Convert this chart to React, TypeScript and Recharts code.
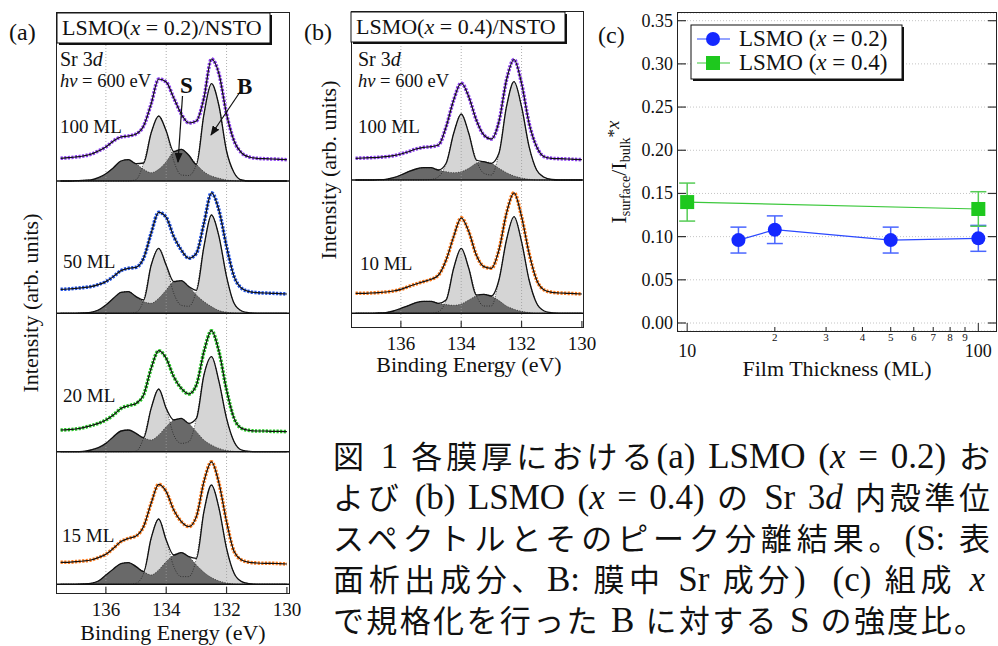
import React from "react";
import {
  ComposedChart,
  Area,
  Line,
  XAxis,
  YAxis,
  ReferenceLine,
  CartesianGrid,
  ErrorBar,
} from "recharts";

const SERIF = "'Liberation Serif', 'Times New Roman', serif";
const CAPTION_FONT = "'Liberation Serif', 'Noto Sans CJK JP', serif";

// binding energy grid (eV), high -> low
const energy = [
  137.5, 137.25, 137, 136.75, 136.5, 136.25, 136, 135.75, 135.5, 135.25, 135,
  134.75, 134.5, 134.25, 134, 133.75, 133.5, 133.25, 133, 132.75, 132.5, 132.25,
  132, 131.75, 131.5, 131.25, 131, 130.75, 130.5, 130.25, 130,
];

// (a) LSMO x=0.2
const a100Data = [22.7, 23.3, 24, 25, 26.7, 30, 34, 40, 44, 45, 47, 55, 77, 102, 99, 83, 67, 58, 60, 83, 122, 107, 67, 40, 28, 24, 22.7, 22.3, 22, 21.7, 21.3];
const a100Surf = [0, 0, 0.3, 0.7, 1, 3.3, 7.3, 13.3, 20, 21.3, 17.3, 11.7, 8.3, 11.7, 19.3, 29.3, 31.7, 25.7, 16.7, 9.3, 5, 2.7, 1, 0.3, 0, 0, 0, 0, 0, 0, 0];
const a100Bulk = [0, 0, 0, 0, 0, 0, 0, 0, 0, 0, 1.4, 18, 48, 65, 50, 20, 6, 5.5, 16.7, 66.7, 97.3, 75, 30, 8.3, 1, 0, 0, 0, 0, 0, 0];

const a50Data = [24, 24.3, 25, 25.7, 26.7, 28.7, 31.7, 36.7, 42.7, 45, 46, 55, 80, 101, 96, 76.7, 63.3, 55, 60, 90, 120.5, 103, 66.7, 36.7, 25, 21.7, 20.7, 20.3, 20, 19.7, 19.3];
const a50Surf = [0, 0, 0, 0.3, 1, 3.3, 8.3, 15, 21, 21.7, 16.7, 11.7, 10, 15, 23.3, 31.7, 32.7, 26.7, 18.3, 11.7, 6.7, 2.7, 1, 0.3, 0, 0, 0, 0, 0, 0, 0];
const a50Bulk = [0, 0, 0, 0, 0, 0, 0, 0, 0, 0, 1, 13.3, 48, 65, 48, 20, 8, 7, 23, 66.7, 98.3, 76.7, 36.7, 10, 2.3, 0.5, 0, 0, 0, 0, 0];

const a20Data = [21.7, 22, 22.7, 24, 26, 28.3, 31.7, 36.7, 43.3, 46, 48.3, 56.7, 83.3, 101, 93.3, 75, 63.3, 57.7, 66.7, 100, 121, 100, 61.7, 33.3, 23.3, 21.3, 20.7, 20.7, 20.3, 20.3, 20];
const a20Surf = [0, 0, 0, 0.3, 1.7, 4, 8.3, 15, 20.7, 21.7, 18.3, 14, 11.7, 16.7, 25, 31.7, 33.3, 28.3, 20, 11.7, 6.7, 3.3, 1.3, 0.3, 0, 0, 0, 0, 0, 0, 0];
const a20Bulk = [0, 0, 0, 0, 0, 0, 0, 0, 0, 0, 0.5, 14, 43.3, 62.7, 43.3, 16.7, 8.3, 10, 33.3, 76.7, 95, 70, 33.3, 10, 1.7, 0.3, 0, 0, 0, 0, 0];

const a15Data = [22, 22, 22.7, 23.3, 24.3, 26.7, 30, 36, 42.7, 46, 48.3, 57.7, 81, 100, 92.7, 74.3, 62.7, 57.7, 67.7, 102.7, 122.5, 101, 62.7, 32.7, 24.3, 22, 21.3, 21, 21, 20.7, 20.3];
const a15Surf = [0, 0, 0, 0.3, 1, 3.3, 9.3, 15.3, 20.7, 21.7, 17.7, 12.7, 9.3, 14.3, 22.7, 29.3, 31.7, 27.7, 19.3, 12, 6.7, 3.3, 1.3, 0.3, 0, 0, 0, 0, 0, 0, 0];
const a15Bulk = [0, 0, 0, 0, 0, 0, 0, 0, 0, 0, 1, 11, 46, 65.3, 44.3, 17.7, 7.7, 7.7, 26, 72.7, 99.3, 76, 36, 11, 2.7, 0.7, 0, 0, 0, 0, 0];

// (b) LSMO x=0.4
const b100Data = [21.7, 22, 22.3, 22.7, 23.3, 24.3, 26, 28.3, 31, 32.7, 33.3, 35, 53.3, 80, 97, 83.3, 60, 45, 41, 58.3, 100, 120.5, 96.7, 56.7, 33.3, 23.3, 21.7, 21.3, 21, 20.7, 20.3];
const b100Surf = [0, 0, 0, 0.3, 0.7, 2.3, 5, 8.3, 11, 12.3, 12.3, 10, 8.3, 7.3, 8.3, 11.7, 16.7, 18.3, 16.7, 11.7, 7.3, 4, 2, 0.7, 0, 0, 0, 0, 0, 0, 0];
const b100Bulk = [0, 0, 0, 0, 0, 0, 0, 0, 0, 0, 0.5, 3.3, 16.7, 46.7, 66, 46.7, 20, 6.7, 5, 26.7, 73.3, 98.3, 73.3, 33.3, 10, 2.7, 0.5, 0, 0, 0, 0];

const b10Data = [20, 20, 20.3, 20.7, 21.3, 22.3, 24, 26.7, 29.3, 31.7, 34, 38.3, 53.3, 76.7, 95.5, 81.7, 58.3, 46.7, 45, 63.3, 100, 120.5, 96.7, 60, 33.3, 23.3, 21, 20.3, 20, 19.7, 19.3];
const b10Surf = [0, 0, 0, 0.3, 0.7, 2.3, 5, 7.7, 10.7, 12, 12, 10, 8.7, 8, 9.3, 13.3, 17.3, 19, 17.3, 12.7, 7.3, 4, 2, 0.7, 0, 0, 0, 0, 0, 0, 0];
const b10Bulk = [0, 0, 0, 0, 0, 0, 0, 0, 0, 0, 0, 1.7, 13.3, 45, 65, 45, 18.3, 7.3, 7.3, 33.3, 73.3, 96.7, 71.7, 33.3, 10, 2.3, 0.5, 0, 0, 0, 0];

const energyTicks = [136, 134, 132, 130];
const gridEnergies = [136, 134, 132];

// (c) intensity ratio vs film thickness
const thickX02 = [15, 20, 50, 100];
const ratioX02 = [0.096, 0.108, 0.096, 0.098];
const errX02 = [0.015, 0.016, 0.015, 0.015];
const thickX04 = [10, 100];
const ratioX04 = [0.14, 0.132];
const errX04 = [0.022, 0.02];
const ratioTicks = [0, 0.05, 0.1, 0.15, 0.2, 0.25, 0.3, 0.35];
const thickTicks = [10, 20, 30, 40, 50, 60, 70, 80, 90, 100];

const LIGHT = "#d5d5d5";
const DARK = "#696969";
const PURPLE = "#8a3cf0";
const BLUE_S = "#1e50e6";
const GREEN_S = "#22c522";
const ORANGE = "#ff7a1a";
const BLUE = "#1428ff";
const GREEN = "#1ec81e";

const E_MAX = 137.62;
const PX_PER_EV = 30.17;

type Spec = { data: number[]; surf: number[]; bulk: number[]; color: string };

function EnergyTick(props: any) {
  const { x, y, payload } = props;
  return (
    <g>
      <line x1={x} x2={x} y1={y} y2={y - 6} stroke="#333" strokeWidth={1.2} />
      <text x={x} y={y + 23} textAnchor="middle" fontSize={19} fontFamily={SERIF} fill="#111">
        {payload.value}
      </text>
    </g>
  );
}

function Spectrum({ spec, plotW, plotH, lo, hi, axis }: { spec: Spec; plotW: number; plotH: number; lo: number; hi: number; axis?: boolean }) {
  const rows = energy.map((e, i) => {
    const s = spec.surf[i];
    const b = spec.bulk[i];
    return { e, data: spec.data[i], fit: spec.data[i], surf: s, bulk: b, top: Math.max(s, b) };
  });
  const axisH = axis ? 60 : 0;
  return (
    <ComposedChart width={plotW + 40} height={plotH + axisH} data={rows} margin={{ top: 0, right: 20, bottom: 0, left: 20 }}>
      <XAxis
        dataKey="e"
        type="number"
        domain={[E_MAX - plotW / PX_PER_EV, E_MAX]}
        reversed
        allowDataOverflow
        hide={!axis}
        ticks={energyTicks}
        interval={0}
        height={axisH || 1}
        axisLine={false}
        tickLine={false}
        tickSize={0}
        tickMargin={0}
        tick={(p: any) => <EnergyTick {...p} />}
      />
      <YAxis hide type="number" domain={[lo, hi]} allowDataOverflow />
      {gridEnergies.map((g) => (
        <ReferenceLine key={g} x={g} stroke="#9a9a9a" strokeWidth={0.8} strokeDasharray="1 2" />
      ))}
      {/* bulk (light) under surface (dark); hidden outlines stay dotted */}
      <Area type="monotone" dataKey="bulk" stroke="none" fill={LIGHT} fillOpacity={1} baseValue={0} isAnimationActive={false} />
      <Area type="monotone" dataKey="surf" stroke="none" fill={DARK} fillOpacity={1} baseValue={0} isAnimationActive={false} />
      <Line type="monotone" dataKey="surf" stroke="#222" strokeWidth={0.8} strokeDasharray="1 1.5" dot={false} isAnimationActive={false} />
      <Line type="monotone" dataKey="bulk" stroke="#222" strokeWidth={0.8} strokeDasharray="1 1.5" dot={false} isAnimationActive={false} />
      <Line type="monotone" dataKey="top" stroke="#111" strokeWidth={1.3} dot={false} isAnimationActive={false} />
      <ReferenceLine y={0} stroke="#111" strokeWidth={1.4} />
      <Line type="monotone" dataKey="data" stroke={spec.color} strokeWidth={3.6} strokeDasharray="2.2 1.4" dot={false} isAnimationActive={false} />
      <Line type="monotone" dataKey="fit" stroke="#111" strokeWidth={1.2} dot={false} isAnimationActive={false} />
    </ComposedChart>
  );
}

function RatioTick(props: any) {
  const { x, y, payload } = props;
  return (
    <g>
      <line x1={x} x2={x + 8} y1={y} y2={y} stroke="#333" strokeWidth={1.2} />
      <text x={x - 5} y={y + 6} textAnchor="end" fontSize={18} fontFamily={SERIF} fill="#111">
        {payload.value.toFixed(2)}
      </text>
    </g>
  );
}

function RightTick(props: any) {
  const { x, y } = props;
  return <line x1={x} x2={x - 8} y1={y} y2={y} stroke="#333" strokeWidth={1.2} />;
}

function ThickTick(props: any) {
  const { x, y, payload } = props;
  const major = payload.value === 10 || payload.value === 100;
  return (
    <g>
      <line x1={x} x2={x} y1={y} y2={y - (major ? 8 : 4)} stroke="#333" strokeWidth={1.1} />
      {major ? (
        <text x={x} y={y + 26} textAnchor="middle" fontSize={18} fontFamily={SERIF} fill="#111">{payload.value}</text>
      ) : (
        <text x={x} y={y + 10} textAnchor="middle" fontSize={11} fontFamily={SERIF} fill="#111">{payload.value / 10}</text>
      )}
    </g>
  );
}

const rowsX02 = thickX02.map((t, i) => ({ t, v: ratioX02[i], err: errX02[i] }));
const rowsX04 = thickX04.map((t, i) => ({ t, v: ratioX04[i], err: errX04[i] }));

function RatioChart() {
  return (
    <ComposedChart width={408} height={390} margin={{ top: 13, right: 0, bottom: 0, left: 0 }}>
      <CartesianGrid horizontal vertical={false} stroke="#c4c4c4" strokeDasharray="1 2" />
      <XAxis
        dataKey="t"
        type="number"
        scale="log"
        domain={[9.3, 115]}
        allowDataOverflow
        ticks={thickTicks}
        interval={0}
        height={59}
        axisLine={false}
        tickLine={false}
        tickSize={0}
        tickMargin={0}
        tick={(p: any) => <ThickTick {...p} />}
      />
      <YAxis
        type="number"
        domain={[-0.00926, 0.3589]}
        allowDataOverflow
        ticks={ratioTicks}
        interval={0}
        width={88}
        axisLine={false}
        tickLine={false}
        tickSize={0}
        tickMargin={0}
        tick={(p: any) => <RatioTick {...p} />}
      />
      <YAxis
        yAxisId="r"
        orientation="right"
        type="number"
        domain={[-0.00926, 0.3589]}
        allowDataOverflow
        ticks={ratioTicks}
        interval={0}
        width={2}
        axisLine={false}
        tickLine={false}
        tickSize={0}
        tickMargin={0}
        tick={(p: any) => <RightTick {...p} />}
      />
      <Line
        data={rowsX02}
        dataKey="v"
        stroke="#2a48ff"
        strokeWidth={1.2}
        isAnimationActive={false}
        dot={(p: any) => <circle key={`c${p.index}`} cx={p.cx} cy={p.cy} r={7} fill={BLUE} />}
      >
        <ErrorBar dataKey="err" direction="y" width={8} stroke="#4a66ff" strokeWidth={1.5} />
      </Line>
      <Line
        data={rowsX04}
        dataKey="v"
        stroke="#3cc83c"
        strokeWidth={1.2}
        isAnimationActive={false}
        dot={(p: any) => <rect key={`s${p.index}`} x={p.cx - 7} y={p.cy - 7} width={14} height={14} fill={GREEN} />}
      >
        <ErrorBar dataKey="err" direction="y" width={8} stroke="#55cc55" strokeWidth={1.5} />
      </Line>
    </ComposedChart>
  );
}

const specA: { spec: Spec; top: number; h: number; lo: number; hi: number }[] = [
  { spec: { data: a100Data, surf: a100Surf, bulk: a100Bulk, color: PURPLE }, top: 13, h: 171, lo: -3, hi: 168 },
  { spec: { data: a50Data, surf: a50Surf, bulk: a50Bulk, color: BLUE_S }, top: 184, h: 134, lo: -4.7, hi: 129.3 },
  { spec: { data: a20Data, surf: a20Surf, bulk: a20Bulk, color: GREEN_S }, top: 318, h: 139, lo: -5.3, hi: 133.7 },
  { spec: { data: a15Data, surf: a15Surf, bulk: a15Bulk, color: ORANGE }, top: 457, h: 136, lo: -8.7, hi: 127.3 },
];
const specB: { spec: Spec; top: number; h: number; lo: number; hi: number }[] = [
  { spec: { data: b100Data, surf: b100Surf, bulk: b100Bulk, color: PURPLE }, top: 12, h: 173, lo: -5, hi: 168 },
  { spec: { data: b10Data, surf: b10Surf, bulk: b10Bulk, color: ORANGE }, top: 185, h: 142, lo: -13.7, hi: 128.3 },
];

// caption segments: j = Japanese, l = latin, i = italic latin
const captionLines: [string, "j" | "l" | "i"][][] = [
  [["図", "j"], [" 1 ", "l"], ["各膜厚における", "j"], ["(a) LSMO (", "l"], ["x", "i"], [" = 0.2) ", "l"], ["お", "j"]],
  [["よび", "j"], [" (b) LSMO (", "l"], ["x", "i"], [" = 0.4) ", "l"], ["の", "j"], [" Sr 3", "l"], ["d", "i"], [" ", "l"], ["内殻準位", "j"]],
  [["スペクトルとそのピーク分離結果。", "j"], ["(S: ", "l"], ["表", "j"]],
  [["面析出成分、", "j"], ["B: ", "l"], ["膜中", "j"], [" Sr ", "l"], ["成分", "j"], [")  (c) ", "l"], ["組成", "j"], [" ", "l"], ["x", "i"]],
  [["で規格化を行った", "j"], [" B ", "l"], ["に対する", "j"], [" S ", "l"], ["の強度比。", "j"]],
];
const captionWidths = [657, 657, 657, 652, 652];

const abs = (left: number, top: number): React.CSSProperties => ({ position: "absolute", left, top });
const frame = (left: number, top: number, width: number, height: number): React.CSSProperties => ({
  position: "absolute",
  left,
  top,
  width,
  height,
  border: "1.5px solid #222",
  boxSizing: "border-box",
});

function TitleBox({ x, y, w, label }: { x: number; y: number; w: number; label: string }) {
  return (
    <g>
      <rect x={x + 2} y={y + 2} width={w} height={30} fill="#111" />
      <rect x={x} y={y} width={w} height={30} fill="#fff" stroke="#111" strokeWidth={1} />
      <text x={x + 5} y={y + 22} fontSize={22} fontFamily={SERIF} fill="#111">
        LSMO(<tspan fontStyle="italic">x</tspan> = {label})/NSTO
      </text>
    </g>
  );
}

function PanelText({ x0, title }: { x0: number; title: string }) {
  return (
    <g fontFamily={SERIF} fill="#111">
      <text x={x0 + 3} y={66} fontSize={20}>
        Sr 3<tspan fontStyle="italic">d</tspan>
      </text>
      <text x={x0 + 3} y={87} fontSize={18.5}>
        <tspan fontStyle="italic">hν</tspan> = 600 eV
      </text>
      <text x={x0 + 3} y={133} fontSize={19}>{title}</text>
    </g>
  );
}

export default function App() {
  return (
    <div style={{ position: "absolute", left: 0, top: 0, width: 998, height: 646, background: "#fff", overflow: "hidden" }}>
      {specA.map((s, i) => (
        <div key={`a${i}`} style={abs(57 - 20, s.top)}>
          <Spectrum spec={s.spec} plotW={232} plotH={s.h} lo={s.lo} hi={s.hi} axis={i === specA.length - 1} />
        </div>
      ))}
      {specB.map((s, i) => (
        <div key={`b${i}`} style={abs(352 - 20, s.top)}>
          <Spectrum spec={s.spec} plotW={231} plotH={s.h} lo={s.lo} hi={s.hi} axis={i === specB.length - 1} />
        </div>
      ))}
      <div style={abs(590, 0)}>
        <RatioChart />
      </div>
      <div style={frame(56, 12, 234, 582)} />
      <div style={frame(351, 11, 233, 317)} />
      <div style={frame(677, 12, 320, 320)} />
      <svg width={998} height={646} style={{ position: "absolute", left: 0, top: 0, pointerEvents: "none" }}>
        <defs>
          <marker id="arrowHead" markerWidth={10} markerHeight={8} refX={9} refY={4} orient="auto" markerUnits="userSpaceOnUse">
            <path d="M0,0 L10,4 L0,8 z" fill="#111" />
          </marker>
        </defs>
        {/* panel (a) */}
        <text x={9} y={40} fontSize={24} fontFamily={SERIF} fill="#111">(a)</text>
        <TitleBox x={57} y={13} w={213} label="0.2" />
        <PanelText x0={57} title="100 ML" />
        <g fontFamily={SERIF} fill="#111" fontSize={19}>
          <text x={63} y={268}>50 ML</text>
          <text x={63} y={402}>20 ML</text>
          <text x={62} y={542}>15 ML</text>
        </g>
        <text x={180} y={93} fontSize={23} fontWeight="bold" fontFamily={SERIF} fill="#111">S</text>
        <text x={237} y={94} fontSize={23} fontWeight="bold" fontFamily={SERIF} fill="#111">B</text>
        <line x1={182.5} y1={96} x2={178} y2={162} stroke="#111" strokeWidth={1.2} markerEnd="url(#arrowHead)" />
        <line x1={240} y1={92} x2={211} y2={135} stroke="#111" strokeWidth={1.2} markerEnd="url(#arrowHead)" />
        <text x={33} y={303} transform="rotate(-90, 33, 303)" textAnchor="middle" dominantBaseline="middle" fontSize={22} fontFamily={SERIF} fill="#111">
          Intensity (arb. units)
        </text>
        <text x={173} y={640} textAnchor="middle" fontSize={22} fontFamily={SERIF} fill="#111">Binding Energy (eV)</text>

        {/* panel (b) */}
        <text x={304} y={40} fontSize={24} fontFamily={SERIF} fill="#111">(b)</text>
        <TitleBox x={351} y={12} w={214} label="0.4" />
        <PanelText x0={355} title="100 ML" />
        <text x={360} y={270} fontSize={19} fontFamily={SERIF} fill="#111">10 ML</text>
        <text x={331} y={170} transform="rotate(-90, 331, 170)" textAnchor="middle" dominantBaseline="middle" fontSize={22} fontFamily={SERIF} fill="#111">
          Intensity (arb. units)
        </text>
        <text x={469} y={372} textAnchor="middle" fontSize={22} fontFamily={SERIF} fill="#111">Binding Energy (eV)</text>

        {/* panel (c) */}
        <text x={598} y={43} fontSize={24} fontFamily={SERIF} fill="#111">(c)</text>
        <rect x={693} y={27} width={211} height={54} fill="#111" />
        <rect x={691} y={25} width={211} height={54} fill="#fff" stroke="#111" strokeWidth={1} />
        <line x1={697} x2={730} y1={39} y2={39} stroke="#2a48ff" strokeWidth={1.2} />
        <circle cx={713} cy={39} r={7} fill={BLUE} />
        <text x={739} y={46} fontSize={23} fontFamily={SERIF} fill="#111">
          LSMO (<tspan fontStyle="italic">x</tspan> = 0.2)
        </text>
        <line x1={697} x2={730} y1={63} y2={63} stroke="#3cc83c" strokeWidth={1.2} />
        <rect x={706} y={56} width={14} height={14} fill={GREEN} />
        <text x={739} y={70} fontSize={23} fontFamily={SERIF} fill="#111">
          LSMO (<tspan fontStyle="italic">x</tspan> = 0.4)
        </text>
        <text x={626} y={172} transform="rotate(-90, 626, 172)" textAnchor="middle" fontSize={22} fontFamily={SERIF} fill="#111">
          I<tspan fontSize={14} dy={4}>surface</tspan>
          <tspan dy={-4}>/I</tspan>
          <tspan fontSize={14} dy={4}>bulk</tspan>
          <tspan fontSize={17} dy={-11}>*</tspan>
          <tspan fontSize={19} fontStyle="italic">x</tspan>
        </text>
        <text x={837} y={376} textAnchor="middle" fontSize={22} fontFamily={SERIF} fill="#111">Film Thickness (ML)</text>
      </svg>

      {/* caption, justified per line */}
      {captionLines.map((line, i) => (
        <div
          key={`cap${i}`}
          style={{
            position: "absolute",
            left: 333,
            top: 436 + i * 41,
            width: captionWidths[i],
            fontSize: 35,
            lineHeight: "41px",
            fontFamily: CAPTION_FONT,
            color: "#111",
            textAlign: "justify",
            textAlignLast: "justify",
            whiteSpace: "pre",
          }}
        >
          {line.map(([t, k], j) => (
            <span key={j} style={{ fontStyle: k === "i" ? "italic" : "normal", fontSize: k === "j" ? 31 : 35 }}>{t}</span>
          ))}
        </div>
      ))}
    </div>
  );
}
